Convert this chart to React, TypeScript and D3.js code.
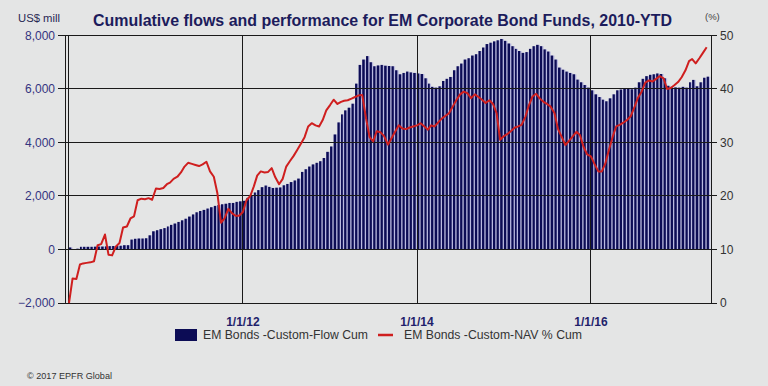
import React from 'react'
import * as d3 from 'd3'

// cumulative flows, US$ mill, read twice a month (1st and 16th)
const flows2010 = [75, 10, 30, 100, 100, 100, 100, 105, 110, 110, 115, 125, 130, 130, 140, 160, 160, 370, 400, 410, 410, 420, 530, 680]
const flows2011 = [720, 760, 800, 860, 920, 970, 1030, 1090, 1150, 1230, 1310, 1390, 1440, 1480, 1530, 1580, 1630, 1660, 1690, 1710, 1740, 1740, 1780, 1800]
const flows2012 = [1820, 1930, 2030, 2130, 2220, 2330, 2390, 2340, 2300, 2310, 2320, 2400, 2450, 2520, 2580, 2650, 2900, 3000, 3100, 3180, 3240, 3300, 3420, 3650]
const flows2013 = [3850, 4300, 4750, 5050, 5200, 5300, 5450, 6200, 6900, 7100, 7230, 7000, 6850, 6880, 6900, 6870, 6860, 6850, 6700, 6550, 6600, 6650, 6620, 6600]
const flows2014 = [6580, 6560, 6400, 6200, 6080, 6050, 6100, 6300, 6380, 6450, 6700, 6850, 6950, 7100, 7150, 7250, 7300, 7420, 7550, 7680, 7730, 7780, 7820, 7870]
const flows2015 = [7800, 7700, 7600, 7500, 7420, 7350, 7380, 7500, 7600, 7650, 7600, 7480, 7400, 7250, 7100, 6800, 6720, 6650, 6600, 6550, 6350, 6250, 6150, 6050]
const flows2016 = [5950, 5800, 5700, 5600, 5540, 5650, 5800, 5950, 5980, 6000, 6000, 5990, 6050, 6250, 6380, 6480, 6530, 6550, 6580, 6560, 6400, 6120, 6050, 6060]
const flows2017 = [6050, 6080, 6050, 6250, 6340, 6100, 6250, 6420, 6460]

// cumulative NAV performance, %
const nav2010 = [0, 4.6, 4.5, 7.2, 7.4, 7.5, 7.6, 7.8, 10.8, 11.0, 12.8, 9.0, 8.9, 10.5, 11.2, 14.1, 14.3, 15.8, 16.2, 19.2, 19.5, 19.4, 19.6, 19.3]
const nav2011 = [21.4, 21.3, 21.5, 22.2, 22.5, 23.2, 23.6, 24.4, 25.5, 26.2, 26.0, 25.8, 25.6, 25.9, 26.4, 24.6, 23.6, 20.5, 15.0, 15.8, 17.6, 16.8, 16.3, 16.3]
const nav2012 = [17.0, 19.2, 20.0, 21.8, 23.8, 24.6, 24.4, 24.5, 25.2, 23.5, 22.2, 23.2, 25.5, 26.5, 27.5, 28.6, 29.8, 31.0, 33.0, 33.6, 33.2, 33.0, 34.2, 36.0]
const nav2013 = [37.0, 38.0, 37.2, 37.6, 37.8, 37.9, 38.2, 38.5, 38.8, 38.9, 34.5, 31.0, 30.2, 32.1, 31.9, 31.2, 29.6, 30.8, 32.0, 33.2, 32.6, 32.5, 32.8, 33.0]
const nav2014 = [33.2, 33.6, 33.0, 32.4, 33.2, 33.0, 33.8, 34.5, 35.0, 35.5, 36.8, 38.0, 39.0, 39.5, 39.2, 38.3, 39.0, 38.5, 38.0, 37.4, 37.9, 37.2, 35.5, 30.5]
const nav2015 = [31.2, 31.6, 32.2, 32.8, 33.0, 33.3, 34.8, 37.0, 38.6, 39.1, 38.2, 37.6, 37.2, 36.7, 35.5, 32.5, 31.0, 29.5, 30.3, 31.1, 32.0, 31.4, 29.2, 27.8]
const nav2016 = [27.4, 26.0, 24.6, 24.6, 26.0, 28.5, 31.0, 33.0, 33.3, 33.7, 34.2, 34.9, 36.5, 38.3, 39.5, 41.2, 41.6, 41.4, 41.9, 42.4, 42.0, 40.0, 40.2, 40.7]
const nav2017 = [41.3, 42.2, 43.5, 45.2, 45.6, 44.8, 45.8, 46.8, 47.8]

const leftTicks = [-2000, 0, 2000, 4000, 6000, 8000]
const rightTicks = [0, 10, 20, 30, 40, 50]
const xTickDates = [new Date(2012, 0, 1), new Date(2014, 0, 1), new Date(2016, 0, 1)]
const xTickLabels = ['1/1/12', '1/1/14', '1/1/16']

const flowCum = [...flows2010, ...flows2011, ...flows2012, ...flows2013, ...flows2014, ...flows2015, ...flows2016, ...flows2017]
const navCum = [...nav2010, ...nav2011, ...nav2012, ...nav2013, ...nav2014, ...nav2015, ...nav2016, ...nav2017]
const dateAt = (i: number) => new Date(2010, Math.floor(i / 2), i % 2 ? 16 : 1)
const dates = flowCum.map((_, i) => dateAt(i))

const W = 768
const H = 386
const top = 35.5
const bottom = 303
const right = 711.5

const font = "'Liberation Sans', Arial, sans-serif"
const navy = '#0c0c55'

export default function App() {
  const x = d3.scaleTime().domain([new Date(2010, 0, 1), new Date(2017, 4, 15)]).range([69, 710])
  const yL = d3.scaleLinear().domain([-2000, 8000]).range([bottom, top])
  const yR = d3.scaleLinear().domain([0, 50]).range([bottom, top])
  const crisp = (v: number) => Math.round(v - 0.5) + 0.5

  const line = d3.line<number>()
    .x((_, i) => x(dates[i]))
    .y(d => yR(d))

  return (
    <svg width={W} height={H} style={{ position: 'absolute', left: 0, top: 0, display: 'block' }}>
      <rect width={W} height={H} fill="#e4e5e5" />

      {/* bars, with a light stripe between them */}
      <g>
        {flowCum.map((v, i) => {
          const x0 = x(dates[i])
          const x1 = x(dateAt(i + 1))
          const y0 = yL(0)
          const y1 = yL(v)
          return (
            <g key={i}>
              <rect x={x0} y={y1} width={x1 - x0} height={y0 - y1} fill="#b9b9e0" />
              <rect x={x0} y={y1} width={Math.max(0.5, x1 - x0 - 1.3)} height={y0 - y1} fill={navy} />
            </g>
          )
        })}
      </g>

      {/* grid */}
      <g stroke="#1a1a1a" strokeWidth={1}>
        {leftTicks.map(t => (
          <line key={t} x1={58} x2={717} y1={crisp(yL(t))} y2={crisp(yL(t))} />
        ))}
        {xTickDates.map((d, i) => (
          <line key={i} x1={crisp(x(d))} x2={crisp(x(d))} y1={top} y2={bottom} />
        ))}
        <line x1={65.5} x2={65.5} y1={top} y2={bottom + 1} />
        <line x1={68.5} x2={68.5} y1={top} y2={bottom + 1} />
        <line x1={right} x2={right} y1={top} y2={bottom + 1} />
      </g>

      {/* NAV line */}
      <path d={line(navCum) || ''} fill="none" stroke="#cf1f1f" strokeWidth={2} strokeLinejoin="round" />

      {/* axes labels */}
      <g fontFamily={font} fontSize={12} fill="#34347f" textAnchor="end">
        {leftTicks.map(t => (
          <text key={t} x={55} y={yL(t) + 4}>{d3.format(',')(t)}</text>
        ))}
      </g>
      <g fontFamily={font} fontSize={12} fill="#333">
        {rightTicks.map(t => (
          <text key={t} x={720} y={yR(t) + 4}>{t}</text>
        ))}
      </g>
      <g fontFamily={font} fontSize={12} fontWeight="bold" fill="#1f1f6b" textAnchor="middle">
        {xTickDates.map((d, i) => (
          <text key={i} x={x(d)} y={326}>{xTickLabels[i]}</text>
        ))}
      </g>

      {/* titles */}
      <text x={93} y={26} fontFamily={font} fontSize={16} fontWeight="bold" fill="#1c1c5c"
        textLength={579} lengthAdjust="spacingAndGlyphs">
        Cumulative flows and performance for EM Corporate Bond Funds, 2010-YTD
      </text>
      <text x={18} y={22} fontFamily={font} fontSize={10} fill="#2a2a55" textLength={42} lengthAdjust="spacingAndGlyphs">US$ mill</text>
      <text x={705} y={20} fontFamily={font} fontSize={9.5} fill="#444">(%)</text>

      {/* legend */}
      <rect x={175} y={329} width={22} height={12} fill={navy} />
      <text x={203} y={339} fontFamily={font} fontSize={12} fill="#333" textLength={165} lengthAdjust="spacingAndGlyphs">EM Bonds -Custom-Flow Cum</text>
      <line x1={378} x2={393} y1={335} y2={335} stroke="#cf1f1f" strokeWidth={2.5} />
      <text x={404} y={339} fontFamily={font} fontSize={12} fill="#333" textLength={178} lengthAdjust="spacingAndGlyphs">EM Bonds -Custom-NAV % Cum</text>

      <text x={27} y={379} fontFamily={font} fontSize={9.5} fill="#333" textLength={85} lengthAdjust="spacingAndGlyphs">© 2017 EPFR Global</text>
    </svg>
  )
}
